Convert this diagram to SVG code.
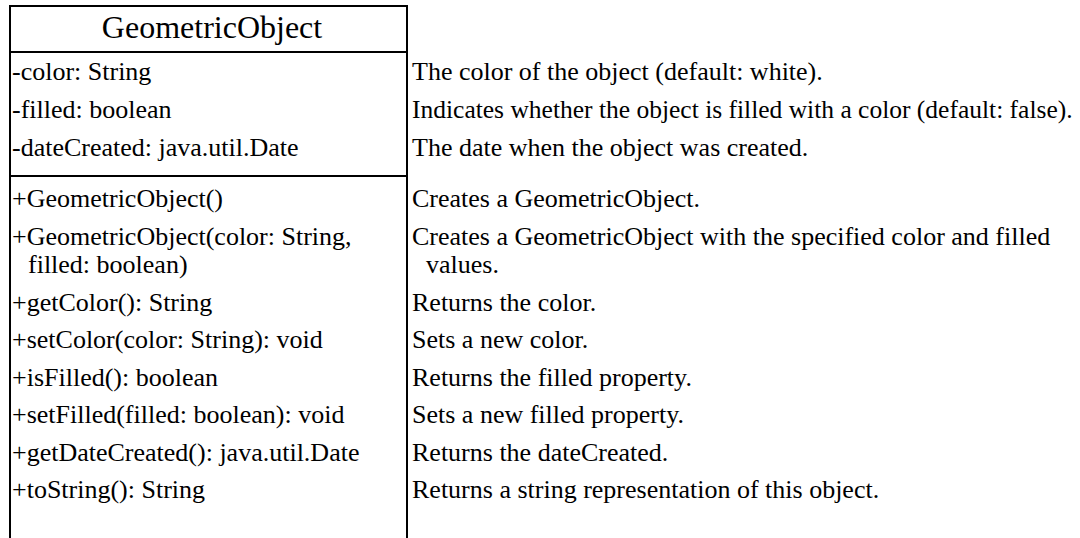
<svg xmlns="http://www.w3.org/2000/svg" width="1080" height="538" viewBox="0 0 1080 538">
<style>
.ln{stroke:#000;stroke-width:2;fill:none}
.t{font-family:"Liberation Serif","Times New Roman",serif;font-size:26px;fill:#000}
.title{font-family:"Liberation Serif","Times New Roman",serif;font-size:32px;fill:#000}
</style>
<rect width="1080" height="538" fill="#fff"/>
<g id="GeometricObject">
<path class="ln" d="M10 540 V6 H407 V540"/>
<line class="ln" x1="10" y1="52" x2="407" y2="52"/>
<line class="ln" x1="10" y1="176" x2="407" y2="176"/>
<text class="title" x="212" y="38" text-anchor="middle">GeometricObject</text>
<text class="t" x="12" y="80">-color: String</text>
<text class="t" x="12" y="118">-filled: boolean</text>
<text class="t" x="12" y="156">-dateCreated: java.util.Date</text>
<text class="t" x="12" y="207">+GeometricObject()</text>
<text class="t" x="12" y="245">+GeometricObject(color: String,</text>
<text class="t" x="28" y="273">filled: boolean)</text>
<text class="t" x="12" y="311">+getColor(): String</text>
<text class="t" x="12" y="348">+setColor(color: String): void</text>
<text class="t" x="12" y="386">+isFilled(): boolean</text>
<text class="t" x="12" y="423">+setFilled(filled: boolean): void</text>
<text class="t" x="12" y="461">+getDateCreated(): java.util.Date</text>
<text class="t" x="12" y="498">+toString(): String</text>
</g>
<g id="descriptions">
<text class="t" x="412" y="80">The color of the object (default: white).</text>
<text class="t" x="412" y="118" style="font-size:25.5px">Indicates whether the object is filled with a color (default: false).</text>
<text class="t" x="412" y="156">The date when the object was created.</text>
<text class="t" x="412" y="207">Creates a GeometricObject.</text>
<text class="t" x="412" y="245">Creates a GeometricObject with the specified color and filled</text>
<text class="t" x="426" y="273">values.</text>
<text class="t" x="412" y="311">Returns the color.</text>
<text class="t" x="412" y="348">Sets a new color.</text>
<text class="t" x="412" y="386">Returns the filled property.</text>
<text class="t" x="412" y="423">Sets a new filled property.</text>
<text class="t" x="412" y="461">Returns the dateCreated.</text>
<text class="t" x="412" y="498">Returns a string representation of this object.</text>
</g>
<g id="connectors"/>
</svg>
